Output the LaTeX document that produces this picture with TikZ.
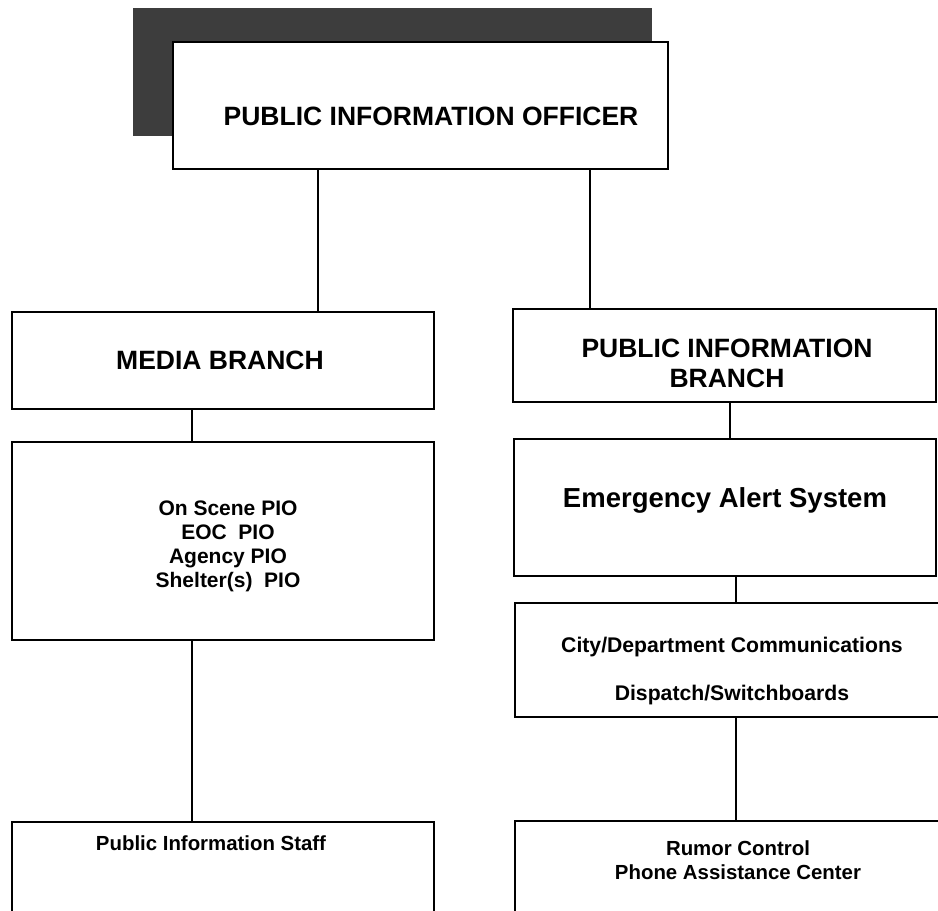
\documentclass[tikz,border=0pt]{standalone}
\usepackage{fontspec}
\setmainfont{Liberation Sans}
\usetikzlibrary{fit}
\definecolor{shade}{gray}{0.24}
\begin{document}
\begin{tikzpicture}[x=1pt,y=-1pt,
  box/.style={draw,line width=1.7pt,inner sep=0pt,fill=white},
  link/.style={line width=1.7pt},
  big/.style={font=\bfseries\fontsize{26.5}{30}\selectfont,align=center,inner sep=0pt},
  small/.style={font=\bfseries\fontsize{20.4}{24}\selectfont,align=center,inner sep=0pt}]
\useasboundingbox (0,0) rectangle (938,911);
\clip (0,0) rectangle (938,911);

% column positions of the connectors
\coordinate (xa) at (318,0);
\coordinate (xb) at (590,0);
\coordinate (xc) at (192,0);
\coordinate (xd) at (730,0);
\coordinate (xe) at (736,0);

% officer box with its dark offset shadow
\node[fill=shade,inner sep=0pt,fit={(133,8) (652,136)}] (shadow) {};
\node[box,fit={(173,42) (668,169)}] (pio) {};
\node[big] (piot) at (431,116) {PUBLIC INFORMATION OFFICER};

% left column
\node[box,fit={(12,312) (434,409)}] (media) {};
\node[big] (mediat) at (220,360) {MEDIA BRANCH};
\node[box,fit={(12,442) (434,640)}] (scene) {};
\node[small,font=\bfseries\fontsize{21}{24}\selectfont] (scenet) at (228,546) {On Scene PIO\\EOC\ \ PIO\\Agency PIO\\Shelter(s)\ \ PIO};
\node[box,fit={(12,822) (434,930)}] (staff) {};
\node[small] (stafft) at (211,843) {Public Information Staff};

% right column
\node[box,fit={(513,309) (936,402)}] (pib) {};
\node[big] (pibt) at (727,363) {PUBLIC INFORMATION\\BRANCH};
\node[box,fit={(514,439) (936,576)}] (eas) {};
\node[big,font=\bfseries\fontsize{27.5}{30}\selectfont] (east) at (725,500) {Emergency Alert System};
\node[box,fit={(515,603) (950,717)}] (cdc) {};
\node[font=\bfseries\fontsize{21.2}{48}\selectfont,align=center,inner sep=0pt] (cdct) at (732,671) {City/Department Communications\\Dispatch/Switchboards};
\node[box,fit={(515,821) (950,930)}] (rumor) {};
\node[small] (rumort) at (738,860) {Rumor Control\\Phone Assistance Center};

% connectors
\draw[link] (pio.south -| xa) -- (media.north -| xa);
\draw[link] (pio.south -| xb) -- (pib.north -| xb);
\draw[link] (media.south -| xc) -- (scene.north -| xc);
\draw[link] (scene.south -| xc) -- (staff.north -| xc);
\draw[link] (pib.south -| xd) -- (eas.north -| xd);
\draw[link] (eas.south -| xe) -- (cdc.north -| xe);
\draw[link] (cdc.south -| xe) -- (rumor.north -| xe);
\end{tikzpicture}
\end{document}
